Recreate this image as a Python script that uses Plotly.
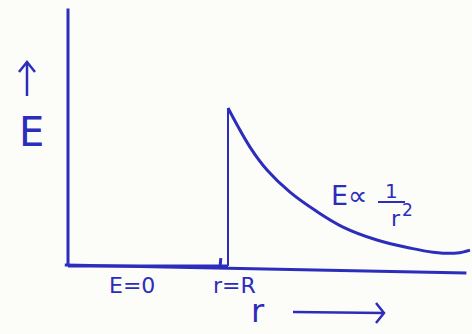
import plotly.graph_objects as go

INK = "#2c2cbd"
PAPER_BG = "#fcfcf8"
FONT = "DejaVu Sans"

W, H = 472, 334

# Field outside the sphere: r in units of R, E in units of the surface field
r_out = [1.0, 1.1375, 1.244, 1.3875, 1.556, 1.719, 1.931, 2.1375, 2.281, 2.431, 2.5125]
E_out = [1.0, 0.753, 0.608, 0.468, 0.345, 0.247, 0.165, 0.114, 0.088, 0.082, 0.101]

# Field inside the sphere (zero)
r_in = [0.0, 1.0]
E_in = [0.0, 0.0]

# Axis extents
r_axis = [-0.02, 2.49]
E_axis_end = [0.006, -0.044]
E_axis_top = 1.63

fig = go.Figure()

# horizontal (r) axis, slightly sloping like a hand-ruled line
fig.add_trace(go.Scatter(x=r_axis, y=E_axis_end, mode="lines",
                         line=dict(color=INK, width=3), hoverinfo="skip"))
# vertical (E) axis
fig.add_trace(go.Scatter(x=[0, 0], y=[0, E_axis_top], mode="lines",
                         line=dict(color=INK, width=3), hoverinfo="skip"))
# E = 0 inside
fig.add_trace(go.Scatter(x=r_in, y=E_in, mode="lines",
                         line=dict(color=INK, width=3), hoverinfo="skip"))
# jump at the surface r = R
fig.add_trace(go.Scatter(x=[r_out[0], r_out[0]], y=[0, E_out[0]], mode="lines",
                         line=dict(color=INK, width=2), hoverinfo="skip"))
# E ∝ 1/r² outside
fig.add_trace(go.Scatter(x=r_out, y=E_out, mode="lines",
                         line=dict(color=INK, width=3, shape="spline", smoothing=1.0),
                         hoverinfo="skip"))
# small tick marking r = R on the axis
fig.add_trace(go.Scatter(x=[0.95, 0.955], y=[-0.01, 0.05], mode="lines",
                         line=dict(color=INK, width=3), hoverinfo="skip"))


def px(x, y):
    """pixel position -> paper fraction"""
    return x / W, 1 - y / H


def label(text, x, y, size):
    xp, yp = px(x, y)
    fig.add_annotation(text=text, x=xp, y=yp, xref="paper", yref="paper",
                       showarrow=False, xanchor="center", yanchor="middle",
                       font=dict(family=FONT, size=size, color=INK))


def stroke(points, width=2.5):
    """open polyline in pixel positions, drawn as a paper-space path"""
    d = ""
    for i, (x, y) in enumerate(points):
        xp, yp = px(x, y)
        d += ("M" if i == 0 else "L") + f"{xp:.5f},{yp:.5f}"
    fig.add_shape(type="path", path=d, xref="paper", yref="paper",
                  line=dict(color=INK, width=width))


# arrow beside the E label (pointing up)
stroke([(27, 96), (27, 62)])
stroke([(19, 72), (27, 62), (35, 72)])
label("E", 31, 132, 40)

# r label with arrow (pointing right)
label("r", 258, 311, 32)
stroke([(293, 312), (384, 313)])
stroke([(376, 303), (384, 313), (376, 323)])

# region labels
label("E=0", 132, 285, 22)
label("r=R", 234, 285, 22)

# E ∝ 1/r² label
label("E∝", 349, 195, 27)
label("1", 391, 191, 20)
label("r", 396, 218, 22)
label("2", 407, 210, 17)
stroke([(378, 202), (405, 202)], width=2)

fig.update_layout(
    width=W, height=H,
    margin=dict(l=0, r=0, t=0, b=0),
    paper_bgcolor=PAPER_BG, plot_bgcolor=PAPER_BG,
    showlegend=False,
    xaxis=dict(range=[-0.425, 2.525], visible=False, fixedrange=True),
    yaxis=dict(range=[-0.430, 1.684], visible=False, fixedrange=True),
)

fig.write_html("out.html")
